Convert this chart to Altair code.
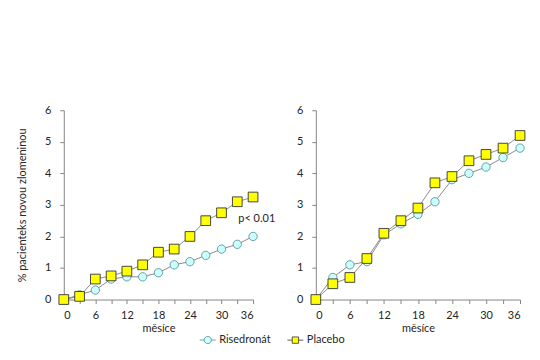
import altair as alt
import pandas as pd

months = [0, 3, 6, 9, 12, 15, 18, 21, 24, 27, 30, 33, 36]
left_ris = [0, 0.15, 0.3, 0.65, 0.72, 0.72, 0.85, 1.1, 1.2, 1.4, 1.6, 1.75, 2.0]
left_pla = [0, 0.1, 0.65, 0.75, 0.9, 1.1, 1.5, 1.6, 2.0, 2.5, 2.75, 3.1, 3.25]
right_ris = [0, 0.7, 1.1, 1.2, 2.05, 2.4, 2.7, 3.1, 3.8, 4.0, 4.2, 4.5, 4.8]
right_pla = [0, 0.5, 0.7, 1.3, 2.1, 2.5, 2.9, 3.7, 3.9, 4.4, 4.6, 4.8, 5.2]
series = ["Risedronát", "Placebo"]
x_ticks = [0, 3, 6, 9, 12, 15, 18, 21, 24, 27, 30, 33, 36]
y_ticks = [0, 1, 2, 3, 4, 5, 6]
note_text = ["p< 0.01"]
note_x = [33.2]
note_y = [2.55]

FONT = "Lato"
GRAY = "#868686"
TXT = "#262626"


def make_df(ris, pla):
    rows = []
    for m, v in zip(months, ris):
        rows.append({"m": m, "v": v, "s": series[0]})
    for m, v in zip(months, pla):
        rows.append({"m": m, "v": v, "s": series[1]})
    return pd.DataFrame(rows)


x_axis = alt.Axis(values=x_ticks, grid=False, title="měsíce", domainColor=GRAY,
                  tickColor=GRAY, tickSize=4, labelFont=FONT, labelFontSize=11,
                  labelColor=TXT, titleFont=FONT, titleFontSize=11, titleColor=TXT,
                  titleFontWeight="normal", titlePadding=2, labelPadding=6,
                  labelOverlap=False,
                  labelExpr="datum.value % 6 == 0 ? datum.label : ''")


def y_axis(title):
    kw = dict(values=y_ticks, grid=False, domainColor=GRAY, tickColor=GRAY,
              tickSize=4, labelFont=FONT, labelFontSize=11, labelColor=TXT,
              labelPadding=9, labelOverlap=False)
    if title:
        return alt.Axis(title=title, titleFont=FONT, titleFontSize=11,
                        titleColor=TXT, titleFontWeight="normal", titlePadding=17, **kw)
    return alt.Axis(title=None, **kw)


circle_path = "M-1,0H-0.45M0.45,0H1M-0.45,0A0.45,0.45 0 1,0 0.45,0A0.45,0.45 0 1,0 -0.45,0Z"
square_path = "M-1,0H-0.4M0.4,0H1M-0.4,-0.4H0.4V0.4H-0.4Z"


def panel(ris, pla, width, ytitle, legend=False, note=False):
    df = make_df(ris, pla)
    base = alt.Chart(df)
    xs = alt.Scale(domain=[0, 36], nice=False)
    ys = alt.Scale(domain=[0, 6])
    ya = y_axis(ytitle)
    x = alt.X("m:Q", scale=xs, axis=x_axis)
    y = alt.Y("v:Q", scale=ys, axis=ya)
    lines = base.mark_line(color="#8c8c8c", strokeWidth=1).encode(x=x, y=y, detail="s:N")
    circ = base.transform_filter(alt.datum.s == series[0]).mark_point(
        shape="circle", filled=True, fill="#ccffff", stroke="#4d8c8c",
        strokeWidth=0.8, size=70, opacity=1).encode(x=x, y=y)
    sq = base.transform_filter(alt.datum.s == series[1]).mark_point(
        shape="square", filled=True, fill="#ffff00", stroke="#333333",
        strokeWidth=0.9, size=95, opacity=1).encode(x=x, y=y)
    layers = [lines, circ, sq]
    if note:
        ndf = pd.DataFrame({"t": note_text, "m": note_x, "v": note_y})
        layers.append(alt.Chart(ndf).mark_text(align="left", font=FONT, fontSize=11,
                                               color=TXT).encode(x=x, y=y, text="t:N"))
    if legend:
        leg = base.transform_filter("false").mark_point(filled=True, size=256, opacity=1).encode(
            x=x, y=y,
            shape=alt.Shape("s:N", scale=alt.Scale(domain=series, range=[circle_path, square_path]),
                            legend=alt.Legend(title=None, orient="none", direction="horizontal",
                                              legendX=136, legendY=222, labelFont=FONT,
                                              labelFontSize=11, labelColor=TXT,
                                              symbolSize=256, columnPadding=14,
                                              symbolStrokeWidth=0.8, labelOffset=3)),
            fill=alt.Fill("s:N", scale=alt.Scale(domain=series, range=["#ccffff", "#ffff00"]),
                          legend=alt.Legend(title=None)),
            stroke=alt.Stroke("s:N", scale=alt.Scale(domain=series, range=["#4d8c8c", "#333333"]),
                              legend=alt.Legend(title=None)),
        )
        layers.append(leg)
    return alt.layer(*layers).properties(width=width, height=190)


left = panel(left_ris, left_pla, 190, "% pacienteks novou zlomeninou", legend=True, note=True)
right = panel(right_ris, right_pla, 205, None)

chart = alt.hconcat(left, right, spacing=20).properties(
    padding={"top": 96, "left": 8, "right": 5, "bottom": 5}
).configure_view(stroke=None)

chart.save("out.html", embed_options={"renderer": "svg", "actions": False})
